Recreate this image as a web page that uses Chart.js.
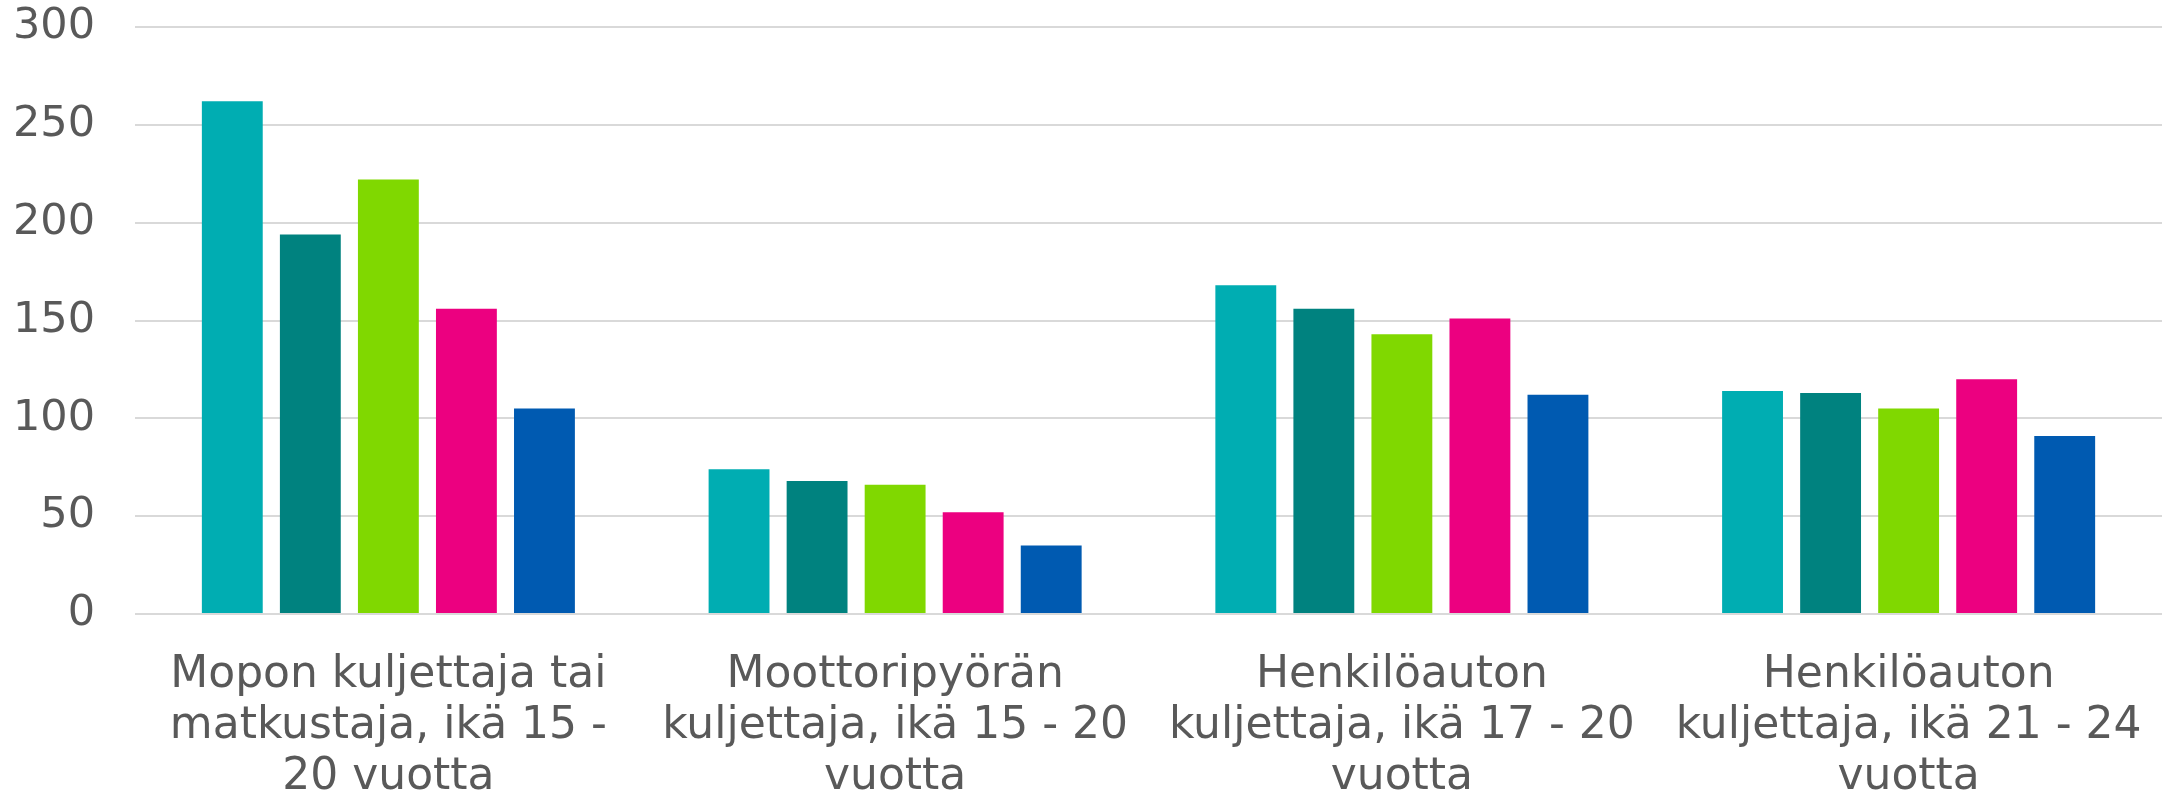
<!DOCTYPE html>
<html>
<head>
<meta charset="utf-8">
<script src="https://cdn.jsdelivr.net/npm/chart.js@4/dist/chart.umd.min.js"></script>
<style>
    html, body { margin: 0; padding: 0; background: #ffffff; }
    #wrap { width: 2162px; height: 793px; position: relative; }
</style>
</head>
<body>
<div id="wrap"><canvas id="chart"></canvas></div>
<script>
const categories = [
    ['Mopon kuljettaja tai', 'matkustaja, ikä 15 -', '20 vuotta'],
    ['Moottoripyörän', 'kuljettaja, ikä 15 - 20', 'vuotta'],
    ['Henkilöauton', 'kuljettaja, ikä 17 - 20', 'vuotta'],
    ['Henkilöauton', 'kuljettaja, ikä 21 - 24', 'vuotta'],
];

// one array per bar colour, left to right inside each group
const series1 = [262, 74, 168, 114];
const series2 = [194, 68, 156, 113];
const series3 = [222, 66, 143, 105];
const series4 = [156, 52, 151, 120];
const series5 = [105, 35, 112, 91];

const yTicks = [0, 50, 100, 150, 200, 250, 300];

const colors = ['#00ADB2', '#00827F', '#80D800', '#EC0080', '#005AB1'];
const textColor = '#595959';
const gridColor = '#D9D9D9';

const ctx = document.getElementById('chart').getContext('2d');

const seriesData = [series1, series2, series3, series4, series5];

new Chart(ctx, {
    type: 'bar',
    data: {
        labels: categories,
        datasets: seriesData.map((values, i) => ({
            label: 'Sarja ' + (i + 1),
            data: values,
            backgroundColor: colors[i],
            borderWidth: 0,
            barPercentage: 0.78,
            categoryPercentage: 0.77,
        })),
    },
    options: {
        responsive: true,
        maintainAspectRatio: false,
        animation: false,
        layout: {
            padding: { top: 27, right: 0, left: 0, bottom: 0 },
        },
        scales: {
            x: {
                border: { display: false },
                grid: { display: false, drawTicks: false },
                ticks: {
                    color: textColor,
                    font: { family: 'DejaVu Sans', size: 44, lineHeight: 1.16 },
                    maxRotation: 0,
                    autoSkip: false,
                    padding: 36,
                },
                afterFit: (scale) => {
                    scale.height = 179;
                    scale.paddingLeft = 0;
                    scale.paddingRight = 0;
                },
            },
            y: {
                min: 0,
                max: 300,
                border: { display: false },
                grid: { color: gridColor, lineWidth: 2, drawTicks: false },
                afterBuildTicks: (scale) => {
                    scale.ticks = yTicks.map(v => ({ value: v }));
                },
                ticks: {
                    color: textColor,
                    font: { family: 'DejaVu Sans', size: 43 },
                    padding: 40,
                },
                afterFit: (scale) => {
                    scale.width = 135;
                    scale.paddingTop = 0;
                    scale.paddingBottom = 0;
                },
            },
        },
        plugins: {
            legend: { display: false },
            tooltip: { enabled: false },
        },
    },
});
</script>
</body>
</html>
